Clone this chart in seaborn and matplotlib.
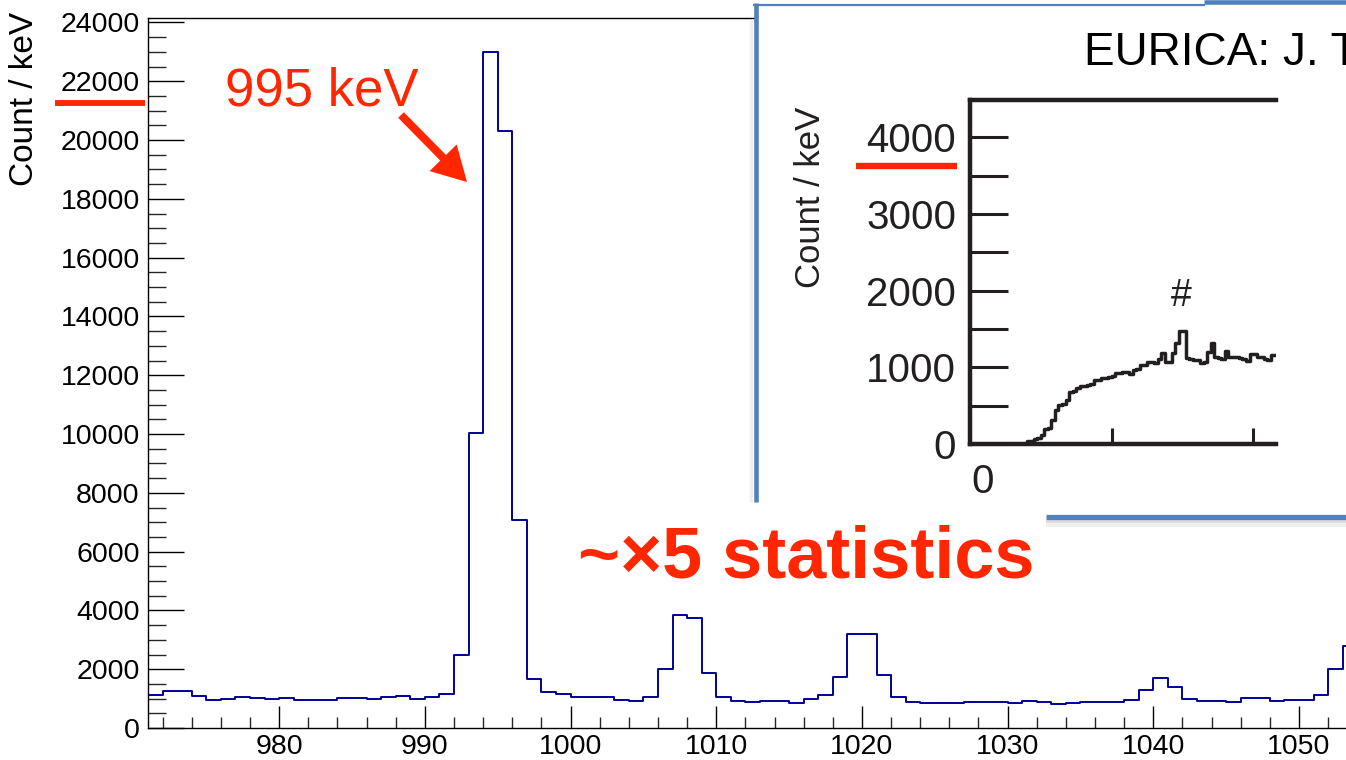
import numpy as np
import pandas as pd
import matplotlib
matplotlib.use("Agg")
import matplotlib.pyplot as plt
from matplotlib.ticker import MultipleLocator, NullFormatter
from matplotlib.patches import Rectangle, FancyArrow
import seaborn as sns

# ---------------- data ----------------
# main spectrum: 1 keV bins, lower bin edges
energy_keV = list(range(971, 1054))
counts = [1110, 1270, 1260, 1090, 960, 1000, 1070, 1030, 1000, 1010,
          945, 945, 940, 1035, 1005, 980, 1070, 1075, 990, 1065,
          1150, 2470, 10050, 23000, 20300, 7060, 1670, 1220, 1165, 1055,
          1060, 1040, 940, 930, 1050, 1995, 3855, 3730, 1880, 1040,
          915, 870, 905, 905, 860, 985, 1135, 1735, 3195, 3195,
          1810, 1060, 870, 860, 860, 850, 870, 870, 875, 850,
          935, 870, 815, 835, 890, 870, 880, 940, 1300, 1690,
          1400, 970, 925, 905, 870, 1020, 1005, 905, 940, 960,
          1120, 1995, 2775]
main_yticks = [0, 2000, 4000, 6000, 8000, 10000, 12000, 14000, 16000,
               18000, 20000, 22000, 24000]
main_xticks = [980, 990, 1000, 1010, 1020, 1030, 1040, 1050]

# inset (EURICA) spectrum: bins of 0.025 (arbitrary x units of the cropped figure)
inset_x = [round(0.025 * i, 3) for i in range(87)]
inset_counts = [0, 0, 0, 0, 0, 0, 0, 0, 0, 0, 0, 0, 0, 0, 0, 0,
                35, 45, 70, 80, 115, 200, 210, 313, 440, 505, 515, 575,
                680, 690, 726, 750, 760, 765, 785, 830, 840, 855, 860, 875,
                885, 920, 925, 945, 940, 912, 970, 980, 1025, 1035, 1070,
                1075, 1050, 1104, 1180, 1075, 1070, 1180, 1313, 1478, 1470,
                1120, 1110, 1095, 1090, 1060, 1065, 1204, 1313, 1139, 1117,
                1110, 1217, 1139, 1135, 1140, 1117, 1110, 1087, 1174, 1170,
                1139, 1135, 1104, 1100, 1160, 1155]
inset_yticks = [0, 1000, 2000, 3000, 4000]

RED = "#ff2600"
NAVY = "#000096"
BLUE = "#4f81bd"
INK = "#231f20"

# ---------------- style ----------------
sns.set_style("ticks")
plt.rcParams["font.family"] = ["Liberation Sans", "DejaVu Sans"]

W, H = 1346, 760
fig = plt.figure(figsize=(W / 100, H / 100), dpi=100)

def px_rect(x0, y0, x1, y1):
    return [x0 / W, 1 - y1 / H, (x1 - x0) / W, (y1 - y0) / H]

# ---------------- main axes ----------------
ax = fig.add_axes(px_rect(148, 18, W, 728), zorder=0)
df = pd.DataFrame({"energy": [e + 0.5 for e in energy_keV], "count": counts})
edges = [float(e) for e in energy_keV] + [float(energy_keV[-1] + 1)]
sns.histplot(data=df, x="energy", weights="count", bins=edges,
             element="step", fill=False, color=NAVY, linewidth=1.4, ax=ax)
ax.set_xlim(971, 971 + (W - 148) / 14.57)
ax.set_ylim(0, 24150)
ax.set_xlabel("")
ax.set_ylabel("")
ax.set_yticks(main_yticks)
ax.set_xticks(main_xticks)
ax.yaxis.set_minor_locator(MultipleLocator(500))
ax.xaxis.set_minor_locator(MultipleLocator(2))
ax.tick_params(axis="y", which="major", direction="in", length=26, width=1.0,
               labelsize=20.5, pad=6, colors="black")
ax.tick_params(axis="y", which="minor", direction="in", length=12.7, width=1.0)
ax.tick_params(axis="x", which="major", direction="in", length=15.6, width=1.0,
               labelsize=20.5, pad=4, colors="black")
ax.tick_params(axis="x", which="minor", direction="in", length=7.9, width=1.0)
for s in ["left", "bottom", "top"]:
    ax.spines[s].set_color("black")
    ax.spines[s].set_linewidth(1.0)
ax.spines["right"].set_visible(False)

fig.text(25 / W, 1 - 99 / H, "Count / keV", rotation=90, ha="center",
         va="center", fontsize=24, color="black")
fig.text(225 / W, 1 - 105 / H, "995 keV", ha="left", va="baseline",
         fontsize=38, color=RED)
fig.text(578 / W, 1 - 577 / H, "~×5 statistics", ha="left", va="baseline",
         fontsize=51.8, fontweight="bold", color=RED)

# ---------------- overlay (pixel coordinates) ----------------
ov = fig.add_axes([0, 0, 1, 1], zorder=1)
ov.set_xlim(0, W)
ov.set_ylim(H, 0)
ov.axis("off")
ov.patch.set_alpha(0)

# arrow to the 995 keV peak
ov.add_patch(FancyArrow(401, 115, 66, 67, width=8, head_width=38,
                        head_length=34, length_includes_head=True,
                        color=RED, lw=0))
# red marker line in main y labels
ov.plot([55, 145], [102.5, 102.5], color=RED, lw=4.2, solid_capstyle="butt")

# inset picture frame
ov.add_patch(Rectangle((757, 5), W - 757, 497, facecolor="white", edgecolor="none"))
ov.add_patch(Rectangle((1046, 500), W - 1046, 15, facecolor="white", edgecolor="none"))
ov.plot([751, 751], [20, 502], color="#f0f0f0", lw=2.5, solid_capstyle="butt")
ov.plot([755.5, 755.5], [3, 502], color=BLUE, lw=3.3, solid_capstyle="butt")
ov.plot([753, 1205], [4.5, 4.5], color=BLUE, lw=1.6, solid_capstyle="butt")
ov.plot([1204, W], [2.3, 2.3], color=BLUE, lw=3.3, solid_capstyle="butt")
ov.plot([1046, W], [521.5, 521.5], color="#dcdcdc", lw=3, solid_capstyle="butt")
ov.plot([1046, W], [525, 525], color="#f0f0f0", lw=3, solid_capstyle="butt")
ov.plot([1046, W], [517, 517], color=BLUE, lw=3.8, solid_capstyle="butt")

# inset texts
ov.text(1084, 65, "EURICA: J. T", ha="left", va="baseline", fontsize=33,
        color="black")
ov.text(811, 197, "Count / keV", rotation=90, ha="center", va="center",
        fontsize=25, color=INK)
ov.plot([856, 957], [166, 166], color=RED, lw=4.6, solid_capstyle="butt")
ov.text(1181, 296, "#", ha="center", va="center", fontsize=27, color=INK)
ov.text(983, 482, "0", ha="center", va="center", fontsize=29, color=INK)

# ---------------- inset axes ----------------
ax_in = fig.add_axes(px_rect(970, 100, 1276, 444), zorder=2)
ax_in.patch.set_alpha(0)
dfi = pd.DataFrame({"x": [v + 0.0125 for v in inset_x], "c": inset_counts})
edges_in = [float(v) for v in inset_x] + [round(inset_x[-1] + 0.025, 3)]
sns.histplot(data=dfi, x="x", weights="c", bins=edges_in, element="step",
             fill=False, color=INK, linewidth=2.5, ax=ax_in)
ax_in.set_xlim(0, (1276 - 969) / 142)
ax_in.set_ylim(0, 4485)
ax_in.set_xlabel("")
ax_in.set_ylabel("")
ax_in.set_yticks(inset_yticks)
ax_in.yaxis.set_minor_locator(MultipleLocator(500))
ax_in.set_xticks([0, 1, 2])
ax_in.xaxis.set_major_formatter(NullFormatter())
ax_in.tick_params(axis="y", which="both", direction="in", length=27.5,
                  width=2.2, color=INK, labelsize=29, labelcolor=INK, pad=10)
ax_in.tick_params(axis="x", which="major", direction="in", length=11.5,
                  width=2.2, color=INK)
for s in ["left", "bottom", "top"]:
    ax_in.spines[s].set_color(INK)
    ax_in.spines[s].set_linewidth(3.2)
ax_in.spines["right"].set_visible(False)

fig.savefig("out.png", dpi=100)
